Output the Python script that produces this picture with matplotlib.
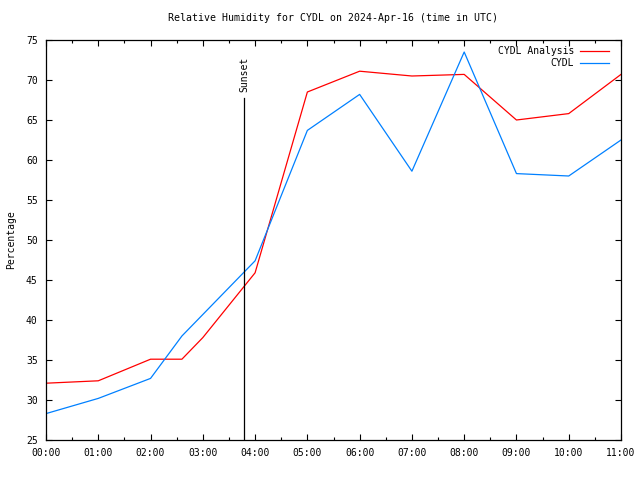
import matplotlib
matplotlib.use("Agg")
import matplotlib.pyplot as plt
from matplotlib.ticker import MultipleLocator

# hours after 00:00 UTC
analysis_hours = [0, 1, 2, 2.6, 3, 4, 5, 6, 7, 8, 9, 10, 11]
analysis_rh = [32.1, 32.4, 35.1, 35.1, 37.8, 45.9, 68.5, 71.1, 70.5, 70.7, 65.0, 65.8, 70.7]

obs_hours = [0, 1, 2, 2.6, 4, 5, 6, 7, 8, 9, 10, 11]
obs_rh = [28.3, 30.2, 32.7, 38.0, 47.4, 63.7, 68.2, 58.6, 73.5, 58.3, 58.0, 62.5]

tick_labels = ["%02d:00" % h for h in range(12)]
sunset_hour = 3.79

plt.rcParams["font.family"] = "DejaVu Sans Mono"
plt.rcParams["font.size"] = 7

fig = plt.figure(figsize=(6.4, 4.8), dpi=100)
ax = fig.add_axes([46 / 640, 40 / 480, 575 / 640, 400 / 480])

ax.plot(analysis_hours, analysis_rh, color="#ff0000", lw=0.9, label="CYDL Analysis")
ax.plot(obs_hours, obs_rh, color="#0080ff", lw=0.9, label="CYDL")

# sunset marker
ax.plot([sunset_hour, sunset_hour], [25, 67.7], color="black", lw=0.9)
ax.text(sunset_hour, 68.5, "Sunset", rotation=90, ha="center", va="bottom")

ax.set_xlim(0, 11)
ax.set_ylim(25, 75)
ax.set_xticks(range(12))
ax.set_xticklabels(tick_labels)
ax.xaxis.set_minor_locator(MultipleLocator(0.5))
ax.yaxis.set_major_locator(MultipleLocator(5))
ax.tick_params(which="both", direction="in", top=True, right=True, width=0.8)
ax.tick_params(which="major", length=4, pad=6)
ax.tick_params(which="minor", length=2)
for s in ax.spines.values():
    s.set_linewidth(0.9)

ax.set_title("Relative Humidity for CYDL on 2024-Apr-16 (time in UTC)", fontsize=7.1, pad=14)
ax.set_ylabel("Percentage", labelpad=7)

ax.legend(loc="upper right", bbox_to_anchor=(0.988, 0.997), frameon=False, markerfirst=False,
          handlelength=3, borderaxespad=0.1, labelspacing=0.25, handletextpad=0.6)

fig.savefig("out.png", dpi=100)
